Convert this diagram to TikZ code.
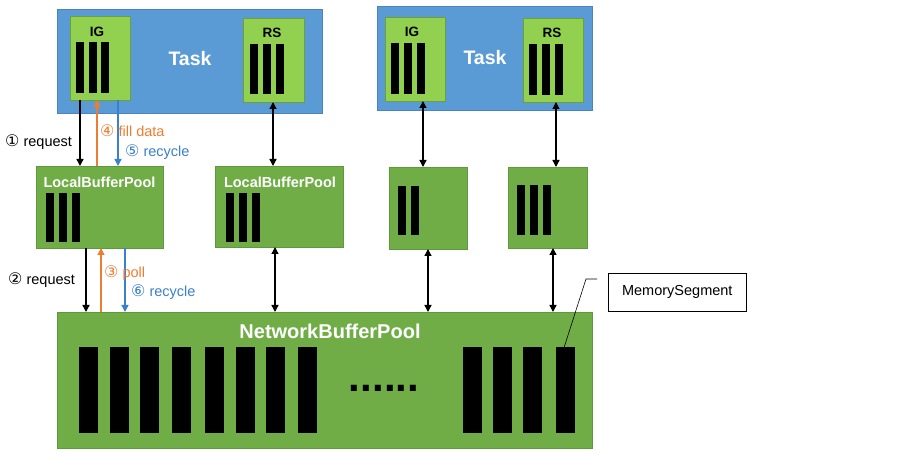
\documentclass[tikz,border=0pt]{standalone}
\usepackage{fontspec}
\setmainfont{Liberation Sans}
\newfontfamily\circfont{DejaVu Sans}
\usetikzlibrary{arrows.meta}
\definecolor{taskblue}{HTML}{5B9BD5}
\definecolor{taskborder}{HTML}{4A84BC}
\definecolor{igreen}{HTML}{92D050}
\definecolor{igborder}{HTML}{6E9E3E}
\definecolor{poolgreen}{HTML}{70AD47}
\definecolor{poolborder}{HTML}{5E9A3A}
\definecolor{anorange}{HTML}{ED7D31}
\definecolor{anblue}{HTML}{3A80CC}
\tikzset{
  taskbox/.style={fill=taskblue, draw=taskborder, line width=0.8pt, inner sep=0pt, outer sep=0pt},
  igbox/.style={fill=igreen, draw=igborder, line width=0.8pt, inner sep=0pt, outer sep=0pt},
  poolbox/.style={fill=poolgreen, draw=poolborder, line width=0.8pt, inner sep=0pt, outer sep=0pt},
  barnode/.style={fill=black, draw=none, inner sep=0pt, outer sep=0pt, anchor=north west},
  arr/.style={line width=1.3pt, -{Triangle[length=7pt,width=7pt]}},
  darr/.style={line width=1.3pt, {Triangle[length=7pt,width=7pt]}-{Triangle[length=7pt,width=7pt]}},
  tasklabel/.style={text=white, font=\fontsize{19.5}{22}\selectfont\bfseries, inner sep=0pt},
  poollabel/.style={text=white, font=\fontsize{14.5}{17}\selectfont\bfseries, inner sep=0pt},
  smalllabel/.style={text=black, font=\fontsize{13.5}{15}\selectfont\bfseries, inner sep=0pt},
  annot/.style={font=\fontsize{14.5}{16}\selectfont, inner sep=0pt, anchor=west},
}
\newcommand{\cnum}[1]{{\circfont\fontsize{16}{16}\selectfont #1}}
\begin{document}
\begin{tikzpicture}[x=1pt,y=-1pt]
\useasboundingbox (0,0) rectangle (911,457);
\fill[white] (0,0) rectangle (911,457);

% ---- Left task ----
\node[taskbox, minimum width=265, minimum height=104] (T1) at (189.5,61) {};
\node[tasklabel] (T1l) at (190,59) {Task};
\node[igbox, minimum width=60, minimum height=84] (IG1) at (100,58) {};
\node[smalllabel] (IG1l) at (97,32) {IG};
\foreach \x in {76,88.5,101} \fill (\x,42) rectangle ++(8,51);
\node[igbox, minimum width=61, minimum height=84] (RS1) at (273.5,60) {};
\node[smalllabel] (RS1l) at (272,33) {RS};
\foreach \x in {250,263,276} \fill (\x,44) rectangle ++(8,50);

% ---- Right task ----
\node[taskbox, minimum width=215, minimum height=104] (T2) at (484.5,58) {};
\node[tasklabel] (T2l) at (485,58) {Task};
\node[igbox, minimum width=60, minimum height=84] (IG2) at (415,59) {};
\node[smalllabel] (IG2l) at (412,32) {IG};
\foreach \x in {391,404,417} \fill (\x,43) rectangle ++(8,51);
\node[igbox, minimum width=60, minimum height=84] (RS2) at (553,60) {};
\node[smalllabel] (RS2l) at (552,33) {RS};
\foreach \x in {529,542,555} \fill (\x,44) rectangle ++(8,51);

% ---- Local buffer pools ----
\node[poolbox, minimum width=127, minimum height=82] (LBP1) at (99.5,207) {};
\node[poollabel] (LBP1l) at (99.5,182) {LocalBufferPool};
\foreach \x in {46,58.5,71.5} \fill (\x,193) rectangle ++(8,49);
\node[poolbox, minimum width=128, minimum height=81] (LBP2) at (279,206.5) {};
\node[poollabel] (LBP2l) at (280,182) {LocalBufferPool};
\foreach \x in {226,239,252} \fill (\x,193) rectangle ++(7.5,49);
\node[poolbox, minimum width=78, minimum height=82] (B3) at (428,208) {};
\foreach \x in {398,411} \fill (\x,186) rectangle ++(8,49);
\node[poolbox, minimum width=79, minimum height=81] (B4) at (547.5,207.5) {};
\foreach \x in {517,530,543} \fill (\x,185) rectangle ++(8,50);

% ---- Network buffer pool ----
\node[poolbox, minimum width=535, minimum height=136] (NBP) at (324.5,380) {};
\node[text=white, font=\fontsize{20}{23}\selectfont\bfseries, inner sep=0pt] (NBPl) at (330,331) {NetworkBufferPool};
\foreach \x in {79,109.5,140,172,204.5,235.5,266,298,463,493,523} \fill (\x,347) rectangle ++(19,86);
\node[barnode, minimum width=18.5, minimum height=86] (ms) at (556,347) {};
\node[font=\fontsize{42}{44}\selectfont\bfseries, inner sep=0pt] (dots) at (384,388) {......};

% ---- arrows left column ----
\draw[arr] (IG1.south -| 80,0) -- (LBP1.north -| 80,0);
\draw[arr, anorange] (LBP1.north -| 97,0) -- (IG1.south -| 97,0);
\draw[arr, anblue] (IG1.south -| 118,0) -- (LBP1.north -| 118,0);
\draw[darr] (RS1.south -| 273,0) -- (LBP2.north -| 273,0);

\draw[arr] (LBP1.south -| 86,0) -- (NBP.north -| 86,0);
\draw[arr, anorange] (NBP.north -| 101,0) -- (LBP1.south -| 101,0);
\draw[arr, anblue] (LBP1.south -| 125,0) -- (NBP.north -| 125,0);
\draw[darr] (LBP2.south -| 275,0) -- (NBP.north -| 275,0);

% ---- arrows right ----
\draw[darr] (IG2.south -| 423,0) -- (B3.north -| 423,0);
\draw[darr] (RS2.south -| 556,0) -- (B4.north -| 556,0);
\draw[darr] (B3.south -| 428,0) -- (NBP.north -| 428,0);
\draw[darr] (B4.south -| 553,0) -- (NBP.north -| 553,0);

% ---- annotations ----
\node[annot] (l1) at (5,142) {\cnum{①} request};
\node[annot, text=anorange] (l4) at (100,131) {\cnum{④} fill data};
\node[annot, text=anblue] (l5) at (125,152) {\cnum{⑤} recycle};
\node[annot] (l2) at (8,280) {\cnum{②} request};
\node[annot, text=anorange] (l3) at (104,273) {\cnum{③} poll};
\node[annot, text=anblue] (l6) at (131,292) {\cnum{⑥} recycle};

% ---- callout ----
\node[draw, line width=0.6pt, minimum width=138, minimum height=38, anchor=north west, inner sep=0pt, font=\fontsize{14.5}{16}\selectfont] (callout) at (608,273) {MemorySegment};
\coordinate (c1) at (597,279);
\coordinate (c2) at (586,279);
\draw[line width=0.6pt] (c1) -- (c2) -- ([xshift=-1pt]ms.north);
\end{tikzpicture}
\end{document}
